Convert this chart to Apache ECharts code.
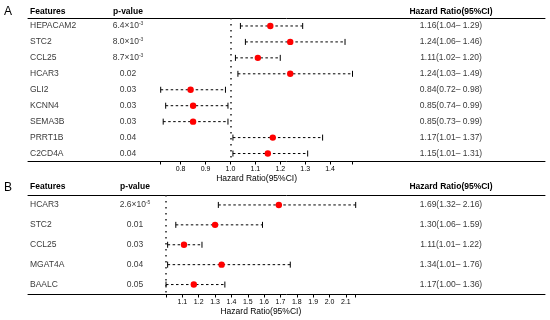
<!DOCTYPE html>
<html>
<head>
<meta charset="utf-8">
<script src="https://cdn.jsdelivr.net/npm/echarts@6/dist/echarts.min.js"></script>
<style>html,body{margin:0;padding:0;background:#fff;}#c{width:550px;height:320px;}</style>
</head>
<body>
<div id="c"></div>
<script>
// ---------- Data ----------
const A_features = ['HEPACAM2','STC2','CCL25','HCAR3','GLI2','KCNN4','SEMA3B','PRRT1B','C2CD4A'];
const A_pvalues  = ['6.4×10^-3','8.0×10^-3','8.7×10^-3','0.02','0.03','0.03','0.03','0.04','0.04'];
const A_hr  = [1.16,1.24,1.11,1.24,0.84,0.85,0.85,1.17,1.15];
const A_low = [1.04,1.06,1.02,1.03,0.72,0.74,0.73,1.01,1.01];
const A_high= [1.29,1.46,1.20,1.49,0.98,0.99,0.99,1.37,1.31];
const A_ticks = [0.72,0.8,0.9,1.0,1.1,1.2,1.3,1.4,1.49];
const A_tickLabels = [0.8,0.9,1.0,1.1,1.2,1.3,1.4];

const B_features = ['HCAR3','STC2','CCL25','MGAT4A','BAALC'];
const B_pvalues  = ['2.6×10^-5','0.01','0.03','0.04','0.05'];
const B_hr  = [1.69,1.30,1.11,1.34,1.17];
const B_low = [1.32,1.06,1.01,1.01,1.00];
const B_high= [2.16,1.59,1.22,1.76,1.36];
const B_ticks = [1.0,1.1,1.2,1.3,1.4,1.5,1.6,1.7,1.8,1.9,2.0,2.1,2.16];
const B_tickLabels = [1.1,1.2,1.3,1.4,1.5,1.6,1.7,1.8,1.9,2.0,2.1];

const headers = ['Features','p-value','Hazard Ratio(95%CI)'];
const axisTitle = 'Hazard Ratio(95%CI)';

// ---------- Layout ----------
const FONT = '"Liberation Sans", Arial, sans-serif';
const TXT = 8.5;
const L = 28, R = 5;
const colFeat = 30, colHR = 451;
const panels = [
  {letter:'A', feats:A_features, p:A_pvalues, hr:A_hr, lo:A_low, hi:A_high, ticks:A_ticks, labels:A_tickLabels,
   min:0.72, max:1.49, top:18, height:143.5, fLeft:160.7, fWidth:191.8, colP:128, headY:12, letterY:12},
  {letter:'B', feats:B_features, p:B_pvalues, hr:B_hr, lo:B_low, hi:B_high, ticks:B_ticks, labels:B_tickLabels,
   min:1.0, max:2.16, top:195, height:99.5, fLeft:166, fWidth:189.7, colP:135, headY:187, letterY:188}
];

function pRich(s){
  const m = s.split('^');
  return m.length > 1 ? m[0] + '{s|' + m[1] + '}' : s;
}
function fmtHR(h,l,u){ return h.toFixed(2) + '(' + l.toFixed(2) + '– ' + u.toFixed(2) + ')'; }

const grid = [], xAxis = [], yAxis = [], series = [], graphic = [];

panels.forEach((P, k) => {
  const gT = grid.length;
  grid.push({left:L, right:R, top:P.top, height:P.height});
  const gF = grid.length;
  grid.push({left:P.fLeft, width:P.fWidth, top:P.top, height:P.height});

  const plain = {show:false};
  const xT0 = xAxis.length;
  xAxis.push({type:'value', gridIndex:gT, min:L, max:550-R, position:'bottom',
    axisLine:{show:true, onZero:false, lineStyle:{color:'#000', width:1}}, axisTick:plain, axisLabel:plain, splitLine:plain});
  xAxis.push({type:'value', gridIndex:gT, min:L, max:550-R, position:'top',
    axisLine:{show:true, onZero:false, lineStyle:{color:'#000', width:1}}, axisTick:plain, axisLabel:plain, splitLine:plain});
  const xF = xAxis.length;
  xAxis.push({type:'value', gridIndex:gF, min:P.min, max:P.max, position:'bottom',
    axisLine:{show:false, onZero:false}, splitLine:plain,
    axisTick:{show:true, length:3, customValues:P.ticks, lineStyle:{color:'#000', width:1}},
    axisLabel:{show:true, customValues:P.labels, formatter:v => v.toFixed(1), fontSize:7, color:'#000', fontFamily:FONT, margin:4},
    name:axisTitle, nameLocation:'middle', nameGap:12.5,
    nameTextStyle:{fontSize:TXT, color:'#000', fontFamily:FONT}});

  const yT = yAxis.length;
  yAxis.push({type:'value', gridIndex:gT, min:-0.5, max:P.feats.length-0.5, inverse:true, show:false, splitLine:plain});
  const yF = yAxis.length;
  yAxis.push({type:'value', gridIndex:gF, min:-0.5, max:P.feats.length-0.5, inverse:true, show:false, splitLine:plain});

  const txtStyle = {fontSize:TXT, color:'#000', fontFamily:FONT};
  const feats = P.feats, pv = P.p, hrs = P.hr, los = P.lo, his = P.hi;
  // Features column
  series.push({type:'scatter', xAxisIndex:xT0, yAxisIndex:yT, symbolSize:0, silent:true,
    data:feats.map((f,i) => [colFeat, i]),
    label:{show:true, position:'inside', align:'left', verticalAlign:'middle', formatter:p => feats[p.dataIndex], ...txtStyle}});
  // p-value column
  series.push({type:'scatter', xAxisIndex:xT0, yAxisIndex:yT, symbolSize:0, silent:true,
    data:pv.map((v,i) => [P.colP, i]),
    label:{show:true, position:'inside', align:'center', verticalAlign:'middle', formatter:p => pRich(pv[p.dataIndex]), ...txtStyle,
      lineHeight:10, rich:{s:{fontSize:5, verticalAlign:'top', lineHeight:10, color:'#000', fontFamily:FONT}}}});
  // HR column
  series.push({type:'scatter', xAxisIndex:xT0, yAxisIndex:yT, symbolSize:0, silent:true,
    data:hrs.map((h,i) => [colHR, i]),
    label:{show:true, position:'inside', align:'center', verticalAlign:'middle',
      formatter:p => fmtHR(hrs[p.dataIndex], los[p.dataIndex], his[p.dataIndex]), ...txtStyle}});

  // Forest plot
  series.push({type:'custom', xAxisIndex:xF, yAxisIndex:yF, silent:true,
    data:hrs.map((h,i) => [h, i, los[i], his[i]]),
    encode:{x:0, y:1},
    renderItem:(params, api) => {
      const c = api.value(1);
      const a = api.coord([api.value(2), c]);
      const m = api.coord([api.value(0), c]);
      const b = api.coord([api.value(3), c]);
      const st = {stroke:'#000', lineWidth:1};
      return {type:'group', children:[
        {type:'line', shape:{x1:a[0], y1:a[1], x2:b[0], y2:b[1]}, style:{stroke:'#000', lineWidth:1, lineDash:[2.5,2.5]}},
        {type:'line', shape:{x1:a[0], y1:a[1]-3, x2:a[0], y2:a[1]+3}, style:st},
        {type:'line', shape:{x1:b[0], y1:b[1]-3, x2:b[0], y2:b[1]+3}, style:st},
        {type:'circle', shape:{cx:m[0], cy:m[1], r:3.2}, style:{fill:'#ff0000'}}
      ]};
    },
    markLine:{silent:true, symbol:'none', label:{show:false},
      lineStyle:{color:'#222', type:[1.5,4.5], width:1.5},
      data:[{xAxis:1.0}]}
  });

  // headers & letter
  graphic.push({type:'text', x:4, y:P.letterY, style:{text:P.letter, fontSize:12, fill:'#000', fontFamily:FONT, align:'left', verticalAlign:'middle'}});
  graphic.push({type:'text', x:colFeat, y:P.headY, style:{text:headers[0], fontSize:TXT, fontWeight:'bold', fill:'#000', fontFamily:FONT, align:'left', verticalAlign:'middle'}});
  graphic.push({type:'text', x:P.colP, y:P.headY, style:{text:headers[1], fontSize:TXT, fontWeight:'bold', fill:'#000', fontFamily:FONT, align:'center', verticalAlign:'middle'}});
  graphic.push({type:'text', x:colHR, y:P.headY, style:{text:headers[2], fontSize:TXT, fontWeight:'bold', fill:'#000', fontFamily:FONT, align:'center', verticalAlign:'middle'}});
});

const chart = echarts.init(document.getElementById('c'), null, {renderer:'canvas'});
chart.setOption({animation:false, backgroundColor:'#fff', grid, xAxis, yAxis, series, graphic});
</script>
</body>
</html>
